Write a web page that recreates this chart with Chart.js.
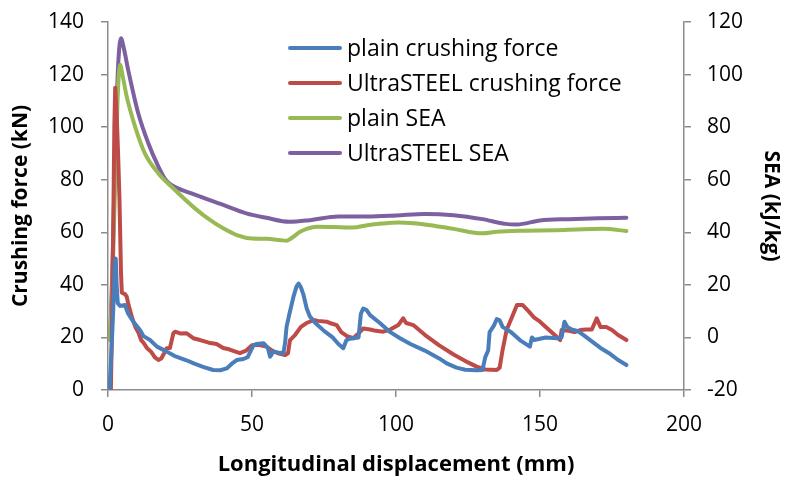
<!DOCTYPE html>
<html>
<head>
<meta charset="utf-8">
<script src="https://cdn.jsdelivr.net/npm/chart.js@4"></script>
<style>
  html, body { margin: 0; padding: 0; background: #fff; }
  #wrap { width: 790px; height: 480px; }
</style>
</head>
<body>
<div id="wrap"><canvas id="chart" width="790" height="480"></canvas></div>
<script>
// displacement (mm) and crushing force (kN)
const plainForceX = [0.5, 1.0, 1.8, 2.4, 2.7, 3.0, 3.4, 4.2, 5.9, 7, 8.8, 11.1, 12.3, 14.6, 17, 20.4, 23, 27, 30, 33, 36.5, 39, 41.2, 43, 44.7, 47, 48.5, 50.5, 51.5, 54, 55.5, 56.3, 57.4, 59, 60.9, 61.5, 62, 63, 64.4, 65.5, 66.2, 67, 67.8, 69, 70.1, 72, 75, 78, 80, 81.7, 82.8, 84, 87, 87.8, 88.6, 89.8, 91, 94.4, 98, 101.4, 105, 110, 115, 117.6, 121, 124, 128, 130, 130.5, 131, 132, 132.5, 134, 135, 136, 137, 140, 143, 146.5, 147.2, 148, 150, 152, 155.8, 157.5, 158.5, 159.5, 161, 163, 165, 168, 171, 174, 177, 180];
const plainForce = [0, 10, 30, 49, 50, 40, 33, 32, 32.3, 29, 26, 22.8, 20.5, 19, 16.5, 14.6, 13, 11.4, 10, 8.8, 7.6, 7.5, 8.2, 10, 11.4, 11.8, 12.5, 17, 17.5, 17.8, 16, 12.7, 14.6, 14.3, 14, 18, 24, 29, 35.5, 39.5, 40.5, 39, 36.5, 31, 28, 25.5, 22.5, 20, 17.5, 15.9, 19, 19.5, 20, 29, 31, 30.4, 28.5, 25.5, 22, 19.7, 17.5, 15, 12, 10.1, 8.5, 7.7, 7.5, 7.6, 10, 12.5, 15, 22, 24.5, 27, 26.5, 24, 22, 19, 16.5, 20, 19, 19.5, 20, 19.7, 20, 26, 24, 23, 22.5, 21, 18.5, 16, 14, 11.5, 9.5];

const ultraForceX = [0.5, 1.0, 1.3, 1.8, 2.2, 2.5, 3.0, 3.5, 4.0, 4.5, 4.8, 5.9, 6.5, 7.0, 7.6, 8.5, 9.5, 10.5, 11.5, 12.3, 13.5, 15, 16.2, 17.5, 18.5, 19.5, 20.4, 21.5, 22.7, 23.3, 25, 27.3, 29.6, 32, 35, 37.7, 40, 42, 45.8, 48, 50, 51.6, 53, 55, 57, 59, 61.5, 62.5, 63.2, 65, 67, 69, 71.3, 73, 75.9, 77, 79.4, 81, 83, 85.2, 86.5, 88.6, 91, 93, 95.6, 98, 100.8, 102.5, 103.5, 106, 110, 115, 120, 125, 128, 131, 135, 136, 137, 138.4, 140, 142, 144, 146, 148, 150, 152, 155, 157, 157.5, 160, 162, 164, 166, 168, 169.7, 171, 173, 175, 177, 180];
const ultraForce = [0, 0, 19, 60, 100, 115, 105, 90, 72, 45, 37, 36.5, 35.5, 33, 30.5, 27, 24, 22, 19, 18, 16, 14.5, 12.5, 11.4, 12, 14, 15.9, 16, 21.6, 22.2, 21.5, 21.6, 19.7, 19, 18, 17.5, 16, 15.5, 14, 15, 17, 17.2, 17, 16.5, 15, 14, 13.3, 14, 19, 21, 24, 25.5, 26.6, 26.3, 26, 25.5, 24.7, 22, 20.5, 19.7, 21, 23.4, 23, 22.5, 22.2, 23, 24.7, 27.3, 25.5, 24.7, 21, 17, 13.5, 10.5, 8.9, 7.8, 7.6, 8.5, 15.2, 22.8, 27, 32.3, 32.3, 30, 27.5, 26, 24, 21, 19, 22.8, 22.5, 22, 22.8, 23, 23, 27.3, 24, 24, 22.8, 21, 19];

// displacement (mm) and SEA (kJ/kg)
const plainSeaX = [0.7, 1.5, 2.5, 3.5, 4.2, 5, 6.5, 9.4, 12.8, 17.5, 22, 30.2, 35.4, 40, 45, 50, 55, 60, 62, 64, 66.7, 69, 72.5, 78, 85, 90, 95, 101, 110, 120, 130, 135, 145, 155, 165, 172, 180];
const plainSea = [-1, 20, 60, 95, 103.7, 100, 91.6, 80.2, 70, 62.4, 57.4, 49.1, 44.7, 41.5, 38.8, 37.6, 37.5, 37, 36.8, 38, 40.2, 41.3, 42.1, 42, 41.8, 42.7, 43.3, 43.7, 43, 41.3, 39.6, 40.2, 40.6, 40.8, 41.2, 41.3, 40.5];

const ultraSeaX = [0.7, 1.5, 2.5, 3.5, 4.5, 5.5, 7, 10.5, 14, 17.5, 20, 22, 29, 40, 48, 55, 63, 70, 80, 90, 100, 110, 120, 130, 138, 142, 150, 160, 170, 180];
const ultraSea = [-1, 25, 70, 103, 113.8, 110, 101.8, 85.3, 73.9, 65, 60, 58, 54.8, 50.4, 47.2, 45.5, 44, 44.6, 46, 46, 46.4, 47, 46.5, 45, 43.2, 43, 44.5, 45, 45.3, 45.5];

const seriesNames = ['plain crushing force', 'UltraSTEEL crushing force', 'plain SEA', 'UltraSTEEL SEA'];
const seriesColors = ['#4A7EBB', '#BE4B48', '#98B954', '#7D60A0'];

const xTicks = [0, 50, 100, 150, 200];
const forceTicks = [0, 20, 40, 60, 80, 100, 120, 140];
const seaTicks = [-20, 0, 20, 40, 60, 80, 100, 120];

const FONT = '"Open Sans", sans-serif';
const AXIS_GREY = '#8C8C8C';

function pts(xs, ys) {
    return xs.map((x, i) => ({ x: x, y: ys[i] }));
}

function makeSet(i, xs, ys, axis, smooth) {
    return {
        label: seriesNames[i],
        data: pts(xs, ys),
        yAxisID: axis,
        borderColor: seriesColors[i],
        backgroundColor: seriesColors[i],
        borderWidth: 4,
        pointRadius: 0,
        tension: smooth ? 0.4 : 0,
        cubicInterpolationMode: smooth ? 'monotone' : 'default',
        borderCapStyle: 'round',
        borderJoinStyle: 'round'
    };
}

// legend drawn inside the plot, one entry per row
const insideLegend = {
    id: 'insideLegend',
    afterDraw(chart) {
        const ctx = chart.ctx;
        ctx.save();
        ctx.font = '23px ' + FONT;
        ctx.textBaseline = 'middle';
        chart.data.datasets.forEach((ds, i) => {
            const y = 48 + i * 35;
            ctx.strokeStyle = ds.borderColor;
            ctx.lineWidth = 4;
            ctx.lineCap = 'round';
            ctx.beginPath();
            ctx.moveTo(290, y);
            ctx.lineTo(340, y);
            ctx.stroke();
            ctx.fillStyle = '#000';
            ctx.fillText(ds.label, 347, y + 1);
        });
        ctx.restore();
    }
};

function axisGrid() {
    return {
        display: true,
        drawOnChartArea: false,
        drawTicks: true,
        tickLength: 7,
        color: AXIS_GREY,
        lineWidth: 1.5
    };
}

// vertical axes: fixed width and no extra label padding, so the plot box stays put
function fixVertical(w) {
    return s => {
        s.width = w;
        s.paddingTop = 0;
        s.paddingBottom = 0;
    };
}

new Chart(document.getElementById('chart'), {
    type: 'line',
    data: {
        datasets: [
            makeSet(0, plainForceX, plainForce, 'y', false),
            makeSet(1, ultraForceX, ultraForce, 'y', false),
            makeSet(2, plainSeaX, plainSea, 'y1', true),
            makeSet(3, ultraSeaX, ultraSea, 'y1', true)
        ]
    },
    options: {
        responsive: false,
        animation: false,
        layout: { padding: { top: 22, left: 0, right: 0, bottom: 0 } },
        plugins: {
            legend: { display: false },
            tooltip: { enabled: false }
        },
        scales: {
            x: {
                type: 'linear',
                min: 0,
                max: 200,
                afterBuildTicks: s => { s.ticks = xTicks.map(v => ({ value: v })); },
                afterFit: s => { s.height = 90; s.paddingLeft = 0; s.paddingRight = 0; },
                grid: axisGrid(),
                border: { color: AXIS_GREY, width: 1.5 },
                ticks: { color: '#000', font: { family: FONT, size: 21 }, padding: 15, maxRotation: 0 },
                title: {
                    display: true,
                    text: 'Longitudinal displacement (mm)',
                    color: '#000',
                    font: { family: FONT, size: 22, weight: 'bold' },
                    padding: { top: 6, bottom: 2 }
                }
            },
            y: {
                position: 'left',
                min: 0,
                max: 140,
                afterBuildTicks: s => { s.ticks = forceTicks.map(v => ({ value: v })); },
                afterFit: fixVertical(108),
                grid: axisGrid(),
                border: { color: AXIS_GREY, width: 1.5 },
                ticks: { color: '#000', font: { family: FONT, size: 21 }, padding: 17 },
                title: {
                    display: true,
                    text: 'Crushing force (kN)',
                    color: '#000',
                    font: { family: FONT, size: 21, weight: 'bold' },
                    padding: { top: 8, bottom: 2 }
                }
            },
            y1: {
                position: 'right',
                min: -20,
                max: 120,
                afterBuildTicks: s => { s.ticks = seaTicks.map(v => ({ value: v })); },
                afterFit: fixVertical(106),
                grid: axisGrid(),
                border: { color: AXIS_GREY, width: 1.5 },
                ticks: { color: '#000', font: { family: FONT, size: 21 }, padding: 16 },
                title: {
                    display: true,
                    text: 'SEA (kJ/kg)',
                    color: '#000',
                    font: { family: FONT, size: 21, weight: 'bold' },
                    padding: { top: 6 }
                }
            }
        }
    },
    plugins: [insideLegend]
});
</script>
</body>
</html>
